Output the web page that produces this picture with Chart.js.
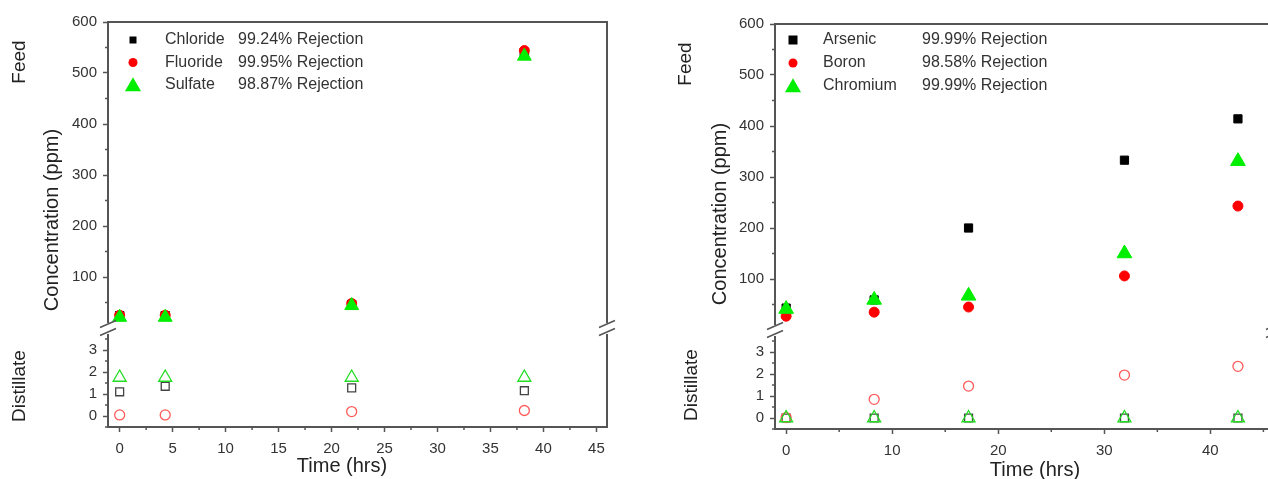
<!DOCTYPE html>
<html>
<head>
<meta charset="utf-8">
<script src="https://cdn.jsdelivr.net/npm/chart.js"></script>
<style>
html, body { margin: 0; padding: 0; background: #fff; overflow: hidden; width: 1268px; height: 479px; }
.panel { position: absolute; top: 0; height: 479px; }
#left { left: 0; width: 640px; }
#right { left: 640px; width: 650px; }
</style>
</head>
<body>
<div class="panel" id="left"><canvas id="chartA" width="640" height="479"></canvas></div>
<div class="panel" id="right"><canvas id="chartB" width="650" height="479"></canvas></div>
<script>
// ---- datos panel A (aniones) ----
const timeA = [0, 4.3, 21.9, 38.2];
const ionsA = ['Chloride', 'Fluoride', 'Sulfate'];
const rejectA = ['99.24% Rejection', '99.95% Rejection', '98.87% Rejection'];
const feedChloride = [24, 24, 46, 540];
const feedFluoride = [25, 25, 48, 544];
const feedSulfate = [21, 21, 44, 533];
const distChloride = [1.1, 1.35, 1.28, 1.15];
const distFluoride = [0.05, 0.05, 0.2, 0.25];
const distSulfate = [1.75, 1.75, 1.75, 1.75];

// ---- datos panel B (metales) ----
const timeB = [0, 8.3, 17.2, 31.9, 42.6];
const ionsB = ['Arsenic', 'Boron', 'Chromium'];
const rejectB = ['99.99% Rejection', '98.58% Rejection', '99.99% Rejection'];
const feedArsenic = [43, 59, 200, 333, 414];
const feedBoron = [27, 35, 45, 106, 243];
const feedChromium = [41, 59, 67, 150, 331];
const distArsenic = [0, 0, 0, 0, 0];
const distBoron = [0.02, 0.85, 1.45, 1.95, 2.35];
const distChromium = [0, 0, 0, 0, 0];

// ---- ticks ----
const xTicksA = [0, 2.5, 5, 7.5, 10, 12.5, 15, 17.5, 20, 22.5, 25, 27.5, 30, 32.5, 35, 37.5, 40, 42.5, 45];
const xLabelsA = [0, 5, 10, 15, 20, 25, 30, 35, 40, 45];
const xTicksB = [0, 5, 10, 15, 20, 25, 30, 35, 40, 45];
const xLabelsB = [0, 10, 20, 30, 40];
const yFeedTicks = [50, 100, 150, 200, 250, 300, 350, 400, 450, 500, 550, 600];
const yFeedLabels = [100, 200, 300, 400, 500, 600];
const yDistTicks = [-0.5, 0, 0.5, 1, 1.5, 2, 2.5, 3, 3.5];
const yDistLabels = [0, 1, 2, 3];

const FONT = '"Liberation Sans", Arial, sans-serif';
const AXIS = '#555';
const TXT = '#333';
const BLACK = '#000', RED = '#ff0000', GREEN = '#00ee00';
const RED_OPEN = '#ff5a5a', GREEN_OPEN = '#22dd22', GRAY_OPEN = '#444';

function ds(label, xs, ys, axis, style, r, color, filled, order) {
    return {
        label: label,
        data: xs.map((x, i) => ({ x: x, y: ys[i] })),
        yAxisID: axis,
        pointStyle: style,
        pointRadius: r,
        pointHoverRadius: r,
        backgroundColor: filled ? color : 'rgba(0,0,0,0)',
        borderColor: color,
        pointBorderWidth: filled ? 1 : 1.3,
        showLine: false,
        order: order
    };
}

// dibuja un marcador de leyenda
function drawMark(ctx, style, x, y, r, color) {
    ctx.fillStyle = color;
    ctx.beginPath();
    if (style === 'rect') {
        ctx.rect(x - r, y - r, 2 * r, 2 * r);
    } else if (style === 'circle') {
        ctx.arc(x, y, r, 0, Math.PI * 2);
    } else {
        ctx.moveTo(x, y - r * 1.1);
        ctx.lineTo(x + r * 1.15, y + r * 0.9);
        ctx.lineTo(x - r * 1.15, y + r * 0.9);
        ctx.closePath();
    }
    ctx.fill();
}

function makePanel(id, p) {
    const canvas = document.getElementById(id);
    const majors = { yFeed: yFeedLabels, yDist: yDistLabels, x: p.xLabels };

    const tickOpts = (labels, pad) => ({
        autoSkip: false,
        maxRotation: 0,
        padding: pad,
        color: TXT,
        font: { family: FONT, size: 15 },
        callback: v => labels.includes(v) ? String(v) : ''
    });
    const gridOpts = (labels) => ({
        drawOnChartArea: false,
        tickLength: 5,
        tickWidth: 1.5,
        tickColor: c => (c.tick && labels.includes(c.tick.value)) ? AXIS : 'rgba(0,0,0,0)'
    });

    // marco, cortes del eje y ticks menores
    const framePlugin = {
        id: 'frame',
        afterDraw(chart) {
            const ctx = chart.ctx;
            const a = chart.chartArea;
            const brk = chart.scales.yFeed.bottom;
            ctx.save();
            ctx.strokeStyle = AXIS;
            ctx.lineWidth = 2;
            ctx.beginPath();
            ctx.moveTo(a.left, brk - 5); ctx.lineTo(a.left, a.top); ctx.lineTo(a.right, a.top); ctx.lineTo(a.right, brk - 5);
            ctx.moveTo(a.left, brk + 6); ctx.lineTo(a.left, a.bottom); ctx.lineTo(a.right, a.bottom); ctx.lineTo(a.right, brk + 6);
            ctx.stroke();
            ctx.lineWidth = 1.5;
            ctx.beginPath();
            for (const x of [a.left, a.right]) {
                for (const d of [-4, 4]) {
                    ctx.moveTo(x - 8, brk + d + 3.5);
                    ctx.lineTo(x + 8, brk + d - 3.5);
                }
            }
            ctx.stroke();
            // ticks menores
            ctx.lineWidth = 1.5;
            ctx.beginPath();
            for (const key of ['yFeed', 'yDist']) {
                const s = chart.scales[key];
                s.ticks.forEach(t => {
                    if (majors[key].includes(t.value)) return;
                    const y = s.getPixelForValue(t.value);
                    ctx.moveTo(a.left, y); ctx.lineTo(a.left - 3, y);
                });
            }
            const sx = chart.scales.x;
            sx.ticks.forEach(t => {
                if (majors.x.includes(t.value)) return;
                const x = sx.getPixelForValue(t.value);
                ctx.moveTo(x, a.bottom); ctx.lineTo(x, a.bottom + 3);
            });
            ctx.stroke();
            ctx.restore();
        }
    };

    // leyenda y títulos
    const textPlugin = {
        id: 'texts',
        afterDraw(chart) {
            const ctx = chart.ctx;
            const a = chart.chartArea;
            const L = p.legend;
            ctx.save();
            chart.data.datasets.slice(0, 3).forEach((d, i) => {
                const y = a.top + L.y0 + i * L.dy;
                drawMark(ctx, d.pointStyle, a.left + L.mx, y, L.size[i], d.borderColor);
                ctx.fillStyle = TXT;
                ctx.font = '16px ' + FONT;
                ctx.textBaseline = 'middle';
                ctx.textAlign = 'left';
                ctx.fillText(p.names[i], a.left + L.tx, y);
                ctx.fillText(p.rejects[i], a.left + L.cx, y);
            });
            ctx.fillStyle = '#222';
            ctx.textAlign = 'center';
            ctx.textBaseline = 'middle';
            p.titles.forEach(t => {
                ctx.save();
                ctx.translate(t.x, t.y);
                if (t.rot) ctx.rotate(-Math.PI / 2);
                ctx.font = t.size + 'px ' + FONT;
                ctx.fillText(t.text, 0, 0);
                ctx.restore();
            });
            ctx.restore();
        }
    };

    return new Chart(canvas, {
        type: 'scatter',
        data: { datasets: p.datasets },
        options: {
            responsive: false,
            animation: false,
            devicePixelRatio: 1,
            layout: { padding: p.padding },
            plugins: { legend: { display: false }, tooltip: { enabled: false } },
            scales: {
                yDist: {
                    type: 'linear', position: 'left', stack: 'conc', stackWeight: 99,
                    min: -0.5, max: 4,
                    afterBuildTicks: s => { s.ticks = yDistTicks.map(v => ({ value: v })); },
                    afterFit: s => { s.width = p.axisW; },
                    ticks: tickOpts(yDistLabels, 6),
                    grid: gridOpts(yDistLabels),
                    border: { display: false }
                },
                yFeed: {
                    type: 'linear', position: 'left', stack: 'conc', stackWeight: 306,
                    min: 0, max: 600,
                    afterBuildTicks: s => { s.ticks = yFeedTicks.map(v => ({ value: v })); },
                    afterFit: s => { s.width = p.axisW; },
                    ticks: tickOpts(yFeedLabels, 6),
                    grid: gridOpts(yFeedLabels),
                    border: { display: false }
                },
                x: {
                    type: 'linear', position: 'bottom',
                    min: p.xMin, max: p.xMax,
                    afterBuildTicks: s => { s.ticks = p.xTicks.map(v => ({ value: v })); },
                    afterFit: s => { s.height = p.xH; },
                    ticks: tickOpts(p.xLabels, 8),
                    grid: gridOpts(p.xLabels),
                    border: { display: false }
                }
            }
        },
        plugins: [framePlugin, textPlugin]
    });
}

makePanel('chartA', {
    names: ionsA, rejects: rejectA,
    xTicks: xTicksA, xLabels: xLabelsA, xMin: -1.1, xMax: 46,
    padding: { left: 0, top: 22, right: 33, bottom: 0 }, axisW: 108, xH: 52,
    legend: { mx: 25, tx: 57, cx: 130, y0: 18, dy: 22.5, size: [3.5, 4.5, 7] },
    titles: [
        { text: 'Feed', x: 20, y: 62, rot: true, size: 19 },
        { text: 'Concentration (ppm)', x: 52, y: 220, rot: true, size: 20 },
        { text: 'Distillate', x: 20, y: 386, rot: true, size: 19 },
        { text: 'Time (hrs)', x: 342, y: 466, rot: false, size: 20 }
    ],
    datasets: [
        ds(ionsA[0], timeA, feedChloride, 'yFeed', 'rect', 6, BLACK, true, 3),
        ds(ionsA[1], timeA, feedFluoride, 'yFeed', 'circle', 5, RED, true, 2),
        ds(ionsA[2], timeA, feedSulfate, 'yFeed', 'triangle', 8, GREEN, true, 1),
        ds(ionsA[0] + ' distillate', timeA, distChloride, 'yDist', 'rect', 5.6, GRAY_OPEN, false, 6),
        ds(ionsA[1] + ' distillate', timeA, distFluoride, 'yDist', 'circle', 5, RED_OPEN, false, 5),
        ds(ionsA[2] + ' distillate', timeA, distSulfate, 'yDist', 'triangle', 7.5, GREEN_OPEN, false, 4)
    ]
});

makePanel('chartB', {
    names: ionsB, rejects: rejectB,
    xTicks: xTicksB, xLabels: xLabelsB, xMin: -1.05, xMax: 46,
    padding: { left: 0, top: 24, right: 16, bottom: 0 }, axisW: 135, xH: 50,
    legend: { mx: 18, tx: 48, cx: 147, y0: 16, dy: 23, size: [4.5, 4.5, 7] },
    titles: [
        { text: 'Feed', x: 46, y: 64, rot: true, size: 19 },
        { text: 'Concentration (ppm)', x: 80, y: 214, rot: true, size: 20 },
        { text: 'Distillate', x: 52, y: 385, rot: true, size: 19 },
        { text: 'Time (hrs)', x: 395, y: 470, rot: false, size: 20 }
    ],
    datasets: [
        ds(ionsB[0], timeB, feedArsenic, 'yFeed', 'rect', 5.8, BLACK, true, 3),
        ds(ionsB[1], timeB, feedBoron, 'yFeed', 'circle', 5, RED, true, 2),
        ds(ionsB[2], timeB, feedChromium, 'yFeed', 'triangle', 8.5, GREEN, true, 1),
        ds(ionsB[0] + ' distillate', timeB, distArsenic, 'yDist', 'rect', 5.6, GRAY_OPEN, false, 6),
        ds(ionsB[1] + ' distillate', timeB, distBoron, 'yDist', 'circle', 5, RED_OPEN, false, 5),
        ds(ionsB[2] + ' distillate', timeB, distChromium, 'yDist', 'triangle', 7.5, GREEN_OPEN, false, 4)
    ]
});
</script>
</body>
</html>
